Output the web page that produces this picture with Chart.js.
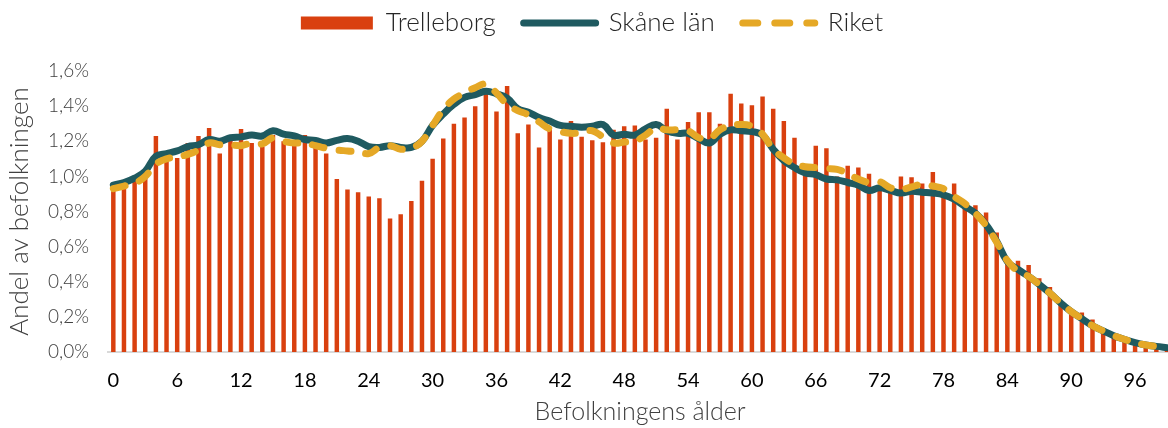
<!DOCTYPE html>
<html>
<head>
<meta charset="utf-8">
<script src="https://cdn.jsdelivr.net/npm/chart.js@4/dist/chart.umd.min.js"></script>
<style>
  html, body { margin: 0; padding: 0; background: #fff; overflow: hidden; }
  #wrap { width: 1184px; height: 428px; }
</style>
</head>
<body>
<div id="wrap"><canvas id="ageChart"></canvas></div>
<script>
// ålder 0-99
const ages = Array.from({ length: 100 }, (_, i) => String(i));

const trelleborg = [
  0.95, 0.935, 0.975, 0.99, 1.23, 1.09, 1.105, 1.19, 1.23, 1.275,
  1.13, 1.22, 1.27, 1.19, 1.17, 1.235, 1.20, 1.18, 1.235, 1.17,
  1.13, 0.985, 0.925, 0.91, 0.885, 0.875, 0.76, 0.785, 0.86, 0.975,
  1.10, 1.215, 1.30, 1.335, 1.40, 1.475, 1.37, 1.515, 1.245, 1.295,
  1.165, 1.27, 1.21, 1.315, 1.225, 1.205, 1.195, 1.265, 1.285, 1.29,
  1.21, 1.22, 1.385, 1.21, 1.31, 1.365, 1.365, 1.30, 1.47, 1.415,
  1.405, 1.455, 1.385, 1.315, 1.22, 1.07, 1.175, 1.16, 1.00, 1.06,
  1.05, 1.015, 0.935, 0.95, 1.0, 0.995, 0.96, 1.025, 0.92, 0.96,
  0.85, 0.835, 0.795, 0.68, 0.51, 0.52, 0.495, 0.42, 0.37, 0.28,
  0.22, 0.225, 0.185, 0.115, 0.09, 0.07, 0.05, 0.04, 0.02, 0.01
];

const skane = [
  0.95, 0.965, 0.99, 1.03, 1.115, 1.13, 1.145, 1.17, 1.18, 1.21,
  1.20, 1.22, 1.225, 1.235, 1.23, 1.26, 1.24, 1.23, 1.21, 1.205,
  1.19, 1.205, 1.215, 1.20, 1.17, 1.165, 1.175, 1.165, 1.165, 1.20,
  1.29, 1.355, 1.41, 1.45, 1.465, 1.485, 1.47, 1.445, 1.385, 1.365,
  1.335, 1.315, 1.29, 1.285, 1.28, 1.285, 1.295, 1.235, 1.24, 1.235,
  1.27, 1.295, 1.26, 1.245, 1.245, 1.215, 1.19, 1.24, 1.265, 1.26,
  1.255, 1.235, 1.155, 1.09, 1.05, 1.02, 1.01, 0.985, 0.98, 0.965,
  0.95, 0.92, 0.935, 0.92, 0.905, 0.915, 0.91, 0.905, 0.895, 0.87,
  0.83, 0.79, 0.725, 0.63, 0.515, 0.47, 0.43, 0.385, 0.335, 0.28,
  0.23, 0.19, 0.15, 0.12, 0.093, 0.072, 0.053, 0.04, 0.032, 0.025
];

const riket = [
  0.93, 0.945, 0.96, 1.0, 1.07, 1.10, 1.11, 1.125, 1.15, 1.19,
  1.18, 1.18, 1.175, 1.19, 1.185, 1.22, 1.20, 1.19, 1.19, 1.175,
  1.16, 1.15, 1.145, 1.14, 1.13, 1.165, 1.175, 1.155, 1.16, 1.20,
  1.29, 1.38, 1.44, 1.475, 1.505, 1.525, 1.475, 1.41, 1.375, 1.35,
  1.31, 1.27, 1.255, 1.245, 1.25, 1.26, 1.225, 1.19, 1.195, 1.20,
  1.235, 1.275, 1.265, 1.265, 1.26, 1.22, 1.215, 1.265, 1.29, 1.295,
  1.285, 1.24, 1.155, 1.105, 1.07, 1.055, 1.05, 1.045, 1.04, 1.015,
  0.985, 0.965, 0.97, 0.935, 0.925, 0.94, 0.955, 0.945, 0.93, 0.885,
  0.845, 0.79, 0.72, 0.625, 0.52, 0.46, 0.43, 0.385, 0.335, 0.28,
  0.23, 0.19, 0.15, 0.12, 0.093, 0.072, 0.053, 0.04, 0.032, 0.025
];

const yTicks = [0, 0.2, 0.4, 0.6, 0.8, 1.0, 1.2, 1.4, 1.6];

const RED = "#d9400f";
const TEAL = "#1f5a60";
const GOLD = "#e5a826";
const FONT = "Lato, 'Open Sans', sans-serif";

// lite extra luft under förklaringen
const legendGap = {
  id: "legendGap",
  beforeInit(chart) {
    const fit = chart.legend.fit;
    chart.legend.fit = function () {
      fit.bind(chart.legend)();
      this.height += 25;
    };
  }
};

const ctx = document.getElementById("ageChart").getContext("2d");

new Chart(ctx, {
  type: "bar",
  data: {
    labels: ages,
    datasets: [
      {
        label: "Trelleborg",
        data: trelleborg,
        backgroundColor: RED,
        barPercentage: 0.42,
        categoryPercentage: 1,
        order: 3
      },
      {
        type: "line",
        label: "Skåne län",
        data: skane,
        borderColor: TEAL,
        backgroundColor: TEAL,
        borderWidth: 7,
        pointRadius: 0,
        tension: 0.4,
        borderCapStyle: "round",
        borderJoinStyle: "round",
        order: 2
      },
      {
        type: "line",
        label: "Riket",
        data: riket,
        borderColor: GOLD,
        backgroundColor: GOLD,
        borderWidth: 7,
        borderDash: [12, 15],
        pointRadius: 0,
        tension: 0.4,
        borderCapStyle: "round",
        order: 1
      }
    ]
  },
  plugins: [legendGap],
  options: {
    responsive: true,
    maintainAspectRatio: false,
    animation: false,
    layout: { padding: { top: -18, right: 0, left: 0, bottom: 0 } },
    plugins: {
      tooltip: { enabled: false },
      legend: {
        position: "top",
        align: "center",
        labels: {
          usePointStyle: true,
          pointStyleWidth: 72,
          boxHeight: 13,
          padding: 28,
          color: "#262626",
          font: { family: FONT, size: 26, weight: "300" },
          sort: (a, b) => a.datasetIndex - b.datasetIndex,
          generateLabels: function (chart) {
            const items = Chart.defaults.plugins.legend.labels.generateLabels(chart);
            items.forEach(item => {
              if (item.datasetIndex === 0) {
                item.pointStyle = "rect";
                item.lineWidth = 0;
              } else {
                item.pointStyle = "line";
                item.lineCap = "round";
                item.lineWidth = 7;
                item.lineDash = item.datasetIndex === 2 ? [15, 17] : [];
              }
            });
            return items;
          }
        }
      }
    },
    scales: {
      x: {
        afterFit: scale => { scale.height = 76; },
        grid: { display: false, drawTicks: false },
        border: { display: true, color: "#d9d9d9", width: 2 },
        ticks: {
          autoSkip: false,
          maxRotation: 0,
          padding: 17,
          color: "#000",
          font: { family: FONT, size: 20 },
          callback: function (value, index) {
            return index % 6 === 0 ? ages[index] : "";
          }
        },
        title: {
          display: true,
          text: "Befolkningens ålder",
          color: "#404040",
          font: { family: FONT, size: 25, weight: "300" },
          padding: { top: 0, bottom: 1 }
        }
      },
      y: {
        min: 0,
        max: 1.6,
        afterBuildTicks: scale => {
          scale.ticks = yTicks.map(v => ({ value: v }));
        },
        afterFit: scale => { scale.width = 108; },
        grid: { display: false, drawTicks: false },
        border: { display: false },
        ticks: {
          padding: 19,
          color: "#404040",
          font: { family: FONT, size: 19, weight: "300" },
          callback: value => value.toFixed(1).replace(".", ",") + "%"
        },
        title: {
          display: true,
          text: "Andel av befolkningen",
          color: "#404040",
          font: { family: FONT, size: 26, weight: "300" },
          padding: { top: 4, bottom: 0 }
        }
      }
    }
  }
});
</script>
</body>
</html>
